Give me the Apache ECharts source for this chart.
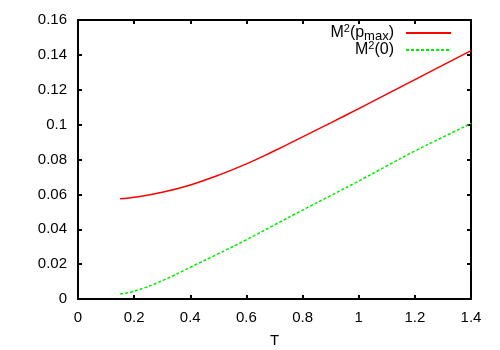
<!DOCTYPE html>
<html>
<head>
<meta charset="utf-8">
<script src="https://cdn.jsdelivr.net/npm/echarts@6/dist/echarts.min.js"></script>
<style>html,body{margin:0;padding:0;background:#fff}#c{width:500px;height:350px}</style>
</head>
<body>
<div id="c"></div>
<script>
var tValues = [0.15, 0.2, 0.3, 0.4, 0.5, 0.6, 0.7, 0.8, 0.9, 1.0, 1.1, 1.2, 1.3, 1.4];
var m2pmax  = [0.0575, 0.0583, 0.0612, 0.0654, 0.0710, 0.0775, 0.0850, 0.0930, 0.1010, 0.1092, 0.1175, 0.1258, 0.1341, 0.1424];
var m20     = [0.0029, 0.0045, 0.0105, 0.0182, 0.0260, 0.0340, 0.0425, 0.0510, 0.0593, 0.0677, 0.0763, 0.0849, 0.0928, 0.1007];
var xTicks = {min: 0, max: 1.4, interval: 0.2};
var yTicks = {min: 0, max: 0.16, interval: 0.02};
var names = ['M2(pmax)', 'M2(0)'];

var font = 'Liberation Sans, Arial, sans-serif';
function pairs(v){ return tValues.map(function(t,i){ return [t, v[i]]; }); }
var rich = {
  m: {fontSize: 16, fontFamily: font, color: '#000', lineHeight: 20, verticalAlign: 'middle'},
  sup: {fontSize: 11, fontFamily: font, color: '#000', verticalAlign: 'top', lineHeight: 20},
  sub: {fontSize: 13, fontFamily: font, color: '#000', verticalAlign: 'bottom', lineHeight: 20}
};
function fmt(n){
  if (n === names[0]) return '{m|M}{sup|2}{m|(p}{sub|max}{m|)}';
  return '{m|M}{sup|2}{m|(0)}';
}
var chart = echarts.init(document.getElementById('c'), null, {renderer: 'canvas'});
var axisCommon = {
  axisLine: {show: true, onZero: false, lineStyle: {color: '#000', width: 2}},
  axisTick: {show: true, inside: true, length: 4, lineStyle: {color: '#000', width: 2}},
  splitLine: {show: false}
};
var legendCommon = {padding: 0, align: 'right', itemWidth: 45, itemHeight: 10,
  formatter: fmt, itemStyle: {opacity: 0}, textStyle: {rich: rich, padding: [0, 7, 0, 0]}};
chart.setOption({
  animation: false,
  backgroundColor: '#fff',
  grid: {left: 78, right: 29, top: 20, bottom: 51, containLabel: false, outerBoundsMode: 'none'},
  legend: [
    Object.assign({data: [names[0]], right: 48, top: 23}, legendCommon),
    Object.assign({data: [names[1]], right: 48, top: 40}, legendCommon)
  ],
  xAxis: [
    Object.assign({type: 'value', min: xTicks.min, max: xTicks.max, interval: xTicks.interval, position: 'bottom',
      name: 'T', nameLocation: 'middle', nameGap: 34,
      nameTextStyle: {fontSize: 15, fontFamily: font, color: '#000'},
      axisLabel: {fontSize: 15, fontFamily: font, color: '#000', margin: 11}}, axisCommon),
    Object.assign({type: 'value', min: xTicks.min, max: xTicks.max, interval: xTicks.interval, position: 'top',
      axisLabel: {show: false}}, axisCommon)
  ],
  yAxis: [
    Object.assign({type: 'value', min: yTicks.min, max: yTicks.max, interval: yTicks.interval, position: 'left',
      axisLabel: {fontSize: 15, fontFamily: font, color: '#000', margin: 11}}, axisCommon),
    Object.assign({type: 'value', min: yTicks.min, max: yTicks.max, interval: yTicks.interval, position: 'right',
      axisLabel: {show: false}}, axisCommon)
  ],
  series: [
    {name: names[0], type: 'line', data: pairs(m2pmax), smooth: true, symbol: 'none',
     lineStyle: {color: '#ff0000', width: 1.5}, itemStyle: {color: '#ff0000'}},
    {name: names[1], type: 'line', data: pairs(m20), smooth: true, symbol: 'none',
     lineStyle: {color: '#00ee00', width: 1.5, type: [3, 2]}, itemStyle: {color: '#00ee00'}}
  ]
});
</script>
</body>
</html>
